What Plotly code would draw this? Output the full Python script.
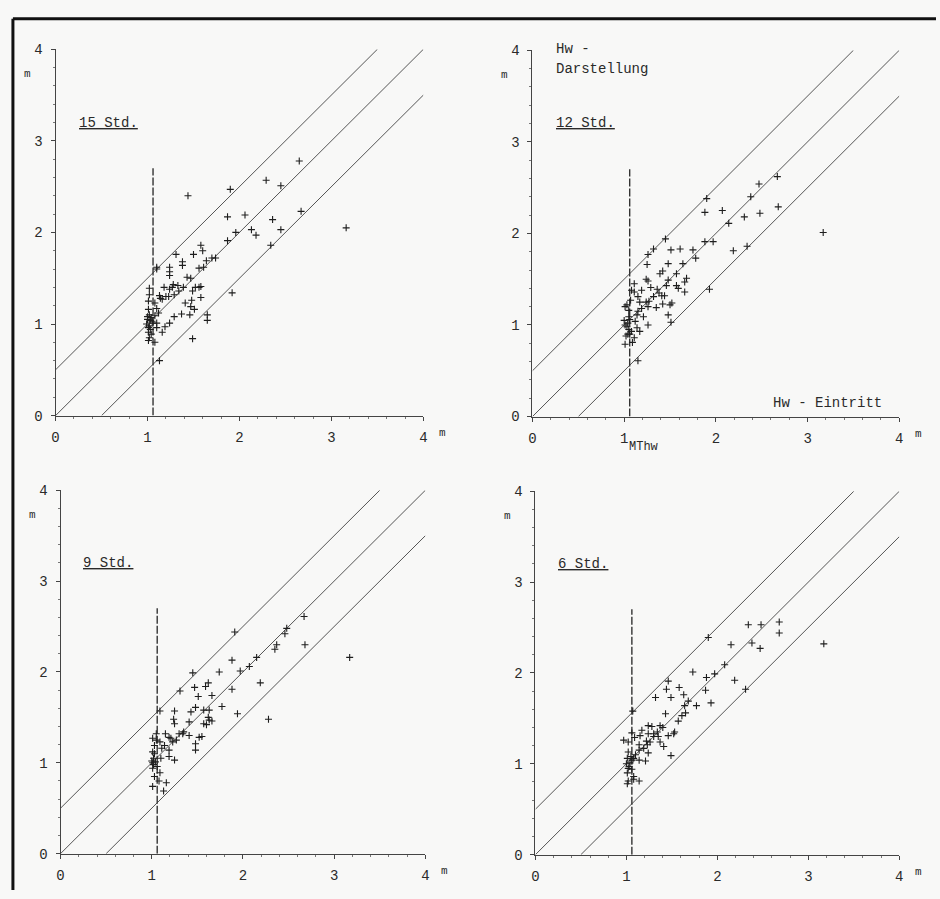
import plotly.graph_objects as go

# ---------------- data ----------------
panel_titles = ["15 Std.", "12 Std.", "9 Std.", "6 Std."]
tick_vals = [0, 1, 2, 3, 4]
tick_text = ["0", "1", "2", "3", "4"]
mthw = 1.06          # position of the dashed MThw line
mthw_top = 2.7       # height of the dashed line
band = 0.5           # offset of the two outer diagonal lines

p15_x = [1.44, 1.90, 2.29, 2.65, 2.45, 1.87, 2.06, 2.36, 2.67, 3.16, 1.96, 2.13, 2.18, 2.45, 1.87,
         2.34, 1.92, 1.74, 1.70, 1.60, 1.58, 1.50, 1.31, 1.38, 1.38, 1.24, 1.56, 1.61, 1.64, 1.10,
         1.10, 1.24, 1.24, 1.43, 1.47, 1.58, 1.56, 1.52, 1.49, 1.58, 1.39, 1.34, 1.27, 1.29, 1.23,
         1.13, 1.16, 1.18, 1.24, 1.28, 1.33, 1.41, 1.48, 1.47, 1.51, 1.46, 1.37, 1.29, 1.24, 1.19,
         1.16, 1.12, 1.10, 1.08, 1.65, 1.65, 1.49, 1.13, 1.02, 1.02, 1.01, 1.01, 1.02, 1.04, 1.05,
         1.01, 1.01, 1.01, 1.08, 1.10, 1.10, 1.08, 1.02, 1.03, 1.06, 1.04, 1.00, 1.00, 1.03, 0.99,
         1.02, 1.20, 1.14]
p15_y = [2.40, 2.47, 2.57, 2.78, 2.51, 2.17, 2.19, 2.14, 2.23, 2.05, 2.00, 2.03, 1.97, 2.03, 1.91,
         1.86, 1.34, 1.72, 1.72, 1.80, 1.86, 1.76, 1.76, 1.68, 1.64, 1.62, 1.61, 1.62, 1.69, 1.62,
         1.60, 1.57, 1.53, 1.51, 1.50, 1.41, 1.40, 1.40, 1.36, 1.29, 1.40, 1.36, 1.40, 1.32, 1.30,
         1.31, 1.27, 1.40, 1.38, 1.43, 1.42, 1.23, 1.26, 1.19, 1.16, 1.10, 1.11, 1.08, 1.01, 0.97,
         0.91, 1.12, 1.17, 1.23, 1.10, 1.04, 0.84, 0.60, 1.39, 1.32, 1.25, 1.16, 1.10, 1.07, 1.03,
         0.96, 0.91, 0.82, 0.80, 0.96, 1.01, 1.09, 0.85, 0.94, 1.01, 0.89, 1.05, 1.08, 1.04, 1.00,
         0.98, 1.30, 1.28]

p12_x = [1.90, 2.47, 2.67, 2.38, 1.88, 2.07, 2.14, 2.31, 2.48, 2.68, 3.17, 1.88, 1.97, 2.19, 2.34,
         1.93, 1.45, 1.32, 1.51, 1.61, 1.75, 1.78, 1.64, 1.26, 1.25, 1.48, 1.42, 1.39, 1.57, 1.68,
         1.66, 1.57, 1.59, 1.48, 1.46, 1.24, 1.26, 1.29, 1.36, 1.38, 1.41, 1.44, 1.32, 1.27, 1.24,
         1.52, 1.50, 1.42, 1.35, 1.26, 1.19, 1.15, 1.17, 1.19, 1.15, 1.11, 1.11, 1.21, 1.26, 1.48,
         1.51, 1.66, 1.08, 1.07, 1.03, 1.05, 1.05, 1.06, 1.04, 1.01, 1.12, 1.05, 1.08, 1.06, 1.04,
         1.17, 1.01, 1.09, 1.15, 1.11, 1.14, 1.14, 1.01, 1.03, 1.00, 1.02]
p12_y = [2.38, 2.54, 2.62, 2.40, 2.23, 2.25, 2.11, 2.18, 2.22, 2.29, 2.01, 1.91, 1.91, 1.81, 1.86,
         1.39, 1.94, 1.83, 1.82, 1.83, 1.82, 1.73, 1.67, 1.77, 1.66, 1.67, 1.59, 1.56, 1.56, 1.51,
         1.47, 1.43, 1.40, 1.49, 1.43, 1.50, 1.48, 1.41, 1.39, 1.35, 1.32, 1.32, 1.31, 1.26, 1.25,
         1.24, 1.22, 1.23, 1.19, 1.20, 1.38, 1.31, 1.25, 1.18, 1.15, 1.45, 1.36, 1.09, 1.00, 1.11,
         1.03, 1.36, 1.38, 1.27, 1.22, 1.16, 1.09, 1.06, 1.02, 1.00, 1.04, 0.95, 0.93, 0.90, 0.90,
         0.93, 0.79, 0.81, 0.61, 0.86, 0.97, 1.11, 1.20, 0.98, 1.05, 0.88]

p9_x = [1.91, 2.48, 2.46, 2.67, 2.37, 2.35, 2.68, 3.17, 1.88, 2.15, 2.07, 1.97, 1.74, 1.45, 2.19,
        1.88, 1.62, 1.59, 1.47, 1.31, 1.66, 1.51, 1.77, 1.57, 1.48, 1.43, 1.63, 1.94, 1.62, 1.63,
        1.66, 1.57, 1.60, 1.41, 1.25, 1.24, 1.25, 2.28, 1.09, 1.30, 1.34, 1.41, 1.52, 1.55, 1.48,
        1.48, 1.19, 1.23, 1.27, 1.15, 1.05, 1.09, 1.14, 1.11, 1.19, 1.25, 1.19, 1.03, 1.03, 1.02,
        1.04, 1.01, 1.01, 1.06, 1.09, 1.03, 1.01, 1.08, 1.16, 1.13, 1.01, 1.01, 1.10, 1.05, 1.00,
        1.02, 1.35, 1.21]
p9_y = [2.44, 2.48, 2.42, 2.61, 2.30, 2.25, 2.30, 2.16, 2.13, 2.16, 2.06, 2.01, 2.00, 1.99, 1.88,
        1.81, 1.88, 1.84, 1.83, 1.79, 1.74, 1.73, 1.62, 1.58, 1.61, 1.56, 1.58, 1.54, 1.50, 1.47,
        1.46, 1.43, 1.42, 1.45, 1.57, 1.48, 1.43, 1.48, 1.57, 1.32, 1.32, 1.30, 1.28, 1.29, 1.21,
        1.14, 1.28, 1.23, 1.25, 1.32, 1.32, 1.23, 1.19, 1.16, 1.14, 1.03, 1.07, 1.19, 1.10, 1.05,
        1.01, 1.00, 0.94, 0.96, 0.89, 0.85, 0.74, 0.80, 0.78, 0.69, 1.27, 1.12, 1.05, 1.25, 1.02,
        0.98, 1.34, 1.27]

p6_x = [1.90, 2.34, 2.48, 2.68, 2.68, 2.38, 2.15, 2.47, 3.17, 2.08, 1.97, 1.73, 1.88, 2.19, 2.31,
        1.87, 1.93, 1.77, 1.46, 1.44, 1.58, 1.63, 1.49, 1.32, 1.64, 1.68, 1.43, 1.65, 1.61, 1.57,
        1.53, 1.52, 1.40, 1.37, 1.24, 1.28, 1.34, 1.30, 1.24, 1.35, 1.46, 1.37, 1.41, 1.26, 1.23,
        1.24, 1.49, 1.17, 1.15, 1.09, 1.14, 1.19, 1.14, 1.10, 1.06, 1.02, 1.02, 1.08, 1.04, 1.02,
        1.06, 1.01, 1.08, 1.02, 1.14, 1.14, 1.21, 0.97, 1.01, 1.08, 1.07, 1.06, 1.00, 1.03, 1.01,
        1.05, 1.22, 1.30]
p6_y = [2.39, 2.53, 2.53, 2.56, 2.44, 2.33, 2.31, 2.27, 2.32, 2.09, 1.99, 2.01, 1.95, 1.92, 1.82,
        1.81, 1.67, 1.64, 1.91, 1.82, 1.84, 1.76, 1.73, 1.73, 1.64, 1.69, 1.55, 1.56, 1.53, 1.47,
        1.35, 1.33, 1.40, 1.42, 1.42, 1.41, 1.35, 1.33, 1.33, 1.30, 1.31, 1.24, 1.19, 1.24, 1.21,
        1.12, 1.09, 1.37, 1.31, 1.29, 1.21, 1.17, 1.15, 1.10, 1.04, 1.13, 1.24, 1.06, 1.01, 0.95,
        0.94, 0.90, 0.86, 0.81, 0.81, 1.04, 1.03, 1.26, 0.78, 0.83, 1.58, 1.34, 1.00, 0.97, 1.06,
        1.08, 1.25, 1.30]

panels_x = [p15_x, p12_x, p9_x, p6_x]
panels_y = [p15_y, p12_y, p9_y, p6_y]

# ---------------- layout geometry ----------------
W, H = 940, 899
# pixel boxes of the four plot areas: (left, right, top, bottom)
boxes = [(52, 423, 43, 416), (533, 903, 44, 417), (57, 425, 492, 862), (536, 903, 493, 863)]

FONT = "Liberation Mono, DejaVu Sans Mono, monospace"
INK = "#2a2a2a"
LINE = "#555555"
BG = "#f8f8f7"

fig = go.Figure()
layout = dict(
    width=W, height=H, margin=dict(l=0, r=0, t=0, b=0),
    paper_bgcolor=BG, plot_bgcolor=BG, showlegend=False,
    font=dict(family=FONT, size=14, color=INK),
)
annotations = []
shapes = []

for i in range(4):
    n = "" if i == 0 else str(i + 1)
    xa, ya = "x" + n, "y" + n
    l, r, t, b = boxes[i]
    axis_common = dict(
        range=[0, 4], tickvals=tick_vals, ticktext=tick_text, showgrid=False, zeroline=False,
        showline=True, linecolor="#444", linewidth=1, ticks="outside", ticklen=4,
        tickcolor="#444", tickwidth=1,
        minor=dict(dtick=0.2, tick0=0, ticks="outside", ticklen=2, tickcolor="#777", tickwidth=1, showgrid=False),
        tickfont=dict(family=FONT, size=14, color=INK), fixedrange=True,
    )
    layout["xaxis" + n] = dict(axis_common, domain=[l / W, r / W], anchor=ya, ticklabelstandoff=5)
    layout["yaxis" + n] = dict(axis_common, domain=[1 - b / H, 1 - t / H], anchor=xa, ticklabelstandoff=5)

    # diagonal reference lines y = x + band, y = x, y = x - band
    for off in (band, 0.0, -band):
        x0 = max(0.0, -off)
        x1 = min(4.0, 4.0 - off)
        fig.add_trace(go.Scatter(x=[x0, x1], y=[x0 + off, x1 + off], mode="lines",
                                 line=dict(color=LINE, width=1), xaxis=xa, yaxis=ya,
                                 hoverinfo="skip"))
    # dashed MThw line
    fig.add_trace(go.Scatter(x=[mthw, mthw], y=[0, mthw_top], mode="lines",
                             line=dict(color="#333", width=1.4, dash="8px,2px"),
                             xaxis=xa, yaxis=ya, hoverinfo="skip"))
    # data points
    fig.add_trace(go.Scatter(x=panels_x[i], y=panels_y[i], mode="markers",
                             marker=dict(symbol="cross-thin", size=5, line=dict(color="#1e1e1e", width=1.1)),
                             xaxis=xa, yaxis=ya, cliponaxis=False))

    # panel title (underlined)
    annotations.append(dict(x=0.23, y=3.2, xref=xa, yref=ya, text=panel_titles[i], showarrow=False,
                            xanchor="left", yanchor="middle",
                            font=dict(family=FONT, size=14, color=INK, lineposition="under")))
    # axis unit labels
    annotations.append(dict(x=0, y=3.73, xref=xa, yref=ya, text="m", showarrow=False,
                            xanchor="center", yanchor="middle", xshift=-28,
                            font=dict(family=FONT, size=11, color=INK)))
    annotations.append(dict(x=4, y=0, xref=xa, yref=ya, text="m", showarrow=False,
                            xanchor="center", yanchor="middle", xshift=19, yshift=-17,
                            font=dict(family=FONT, size=11, color=INK)))

# extra texts in panel 2
annotations += [
    dict(x=0.24, y=4.0, xref="x2", yref="y2", text="Hw -", showarrow=False, xanchor="left",
         yanchor="middle", yshift=1, font=dict(family=FONT, size=14, color=INK)),
    dict(x=0.24, y=3.79, xref="x2", yref="y2", text="Darstellung", showarrow=False, xanchor="left",
         yanchor="middle", font=dict(family=FONT, size=14, color=INK)),
    dict(x=3.83, y=0.15, xref="x2", yref="y2", text="Hw - Eintritt", showarrow=False, xanchor="right",
         yanchor="middle", font=dict(family=FONT, size=14, color=INK)),
    dict(x=mthw, y=0, xref="x2", yref="y2", text="MThw", showarrow=False, xanchor="left",
         yanchor="middle", yshift=-30, xshift=-3, font=dict(family=FONT, size=12, color=INK)),
]

# scanned-page frame (top and left edges)
top_y = 1 - 12 / H
left_x = 9 / W
shapes += [
    dict(type="line", xref="paper", yref="paper", x0=left_x, x1=1, y0=top_y, y1=top_y,
         line=dict(color="#111", width=3)),
    dict(type="line", xref="paper", yref="paper", x0=left_x, x1=left_x, y0=0, y1=top_y,
         line=dict(color="#111", width=3)),
]

layout["annotations"] = annotations
layout["shapes"] = shapes
fig.update_layout(**layout)
# remove the browser's default 8px body margin so the figure fills the window exactly
fig.write_html("out.html", config={"displayModeBar": False},
               post_script="document.body.style.margin='0';document.body.style.overflow='hidden';")
